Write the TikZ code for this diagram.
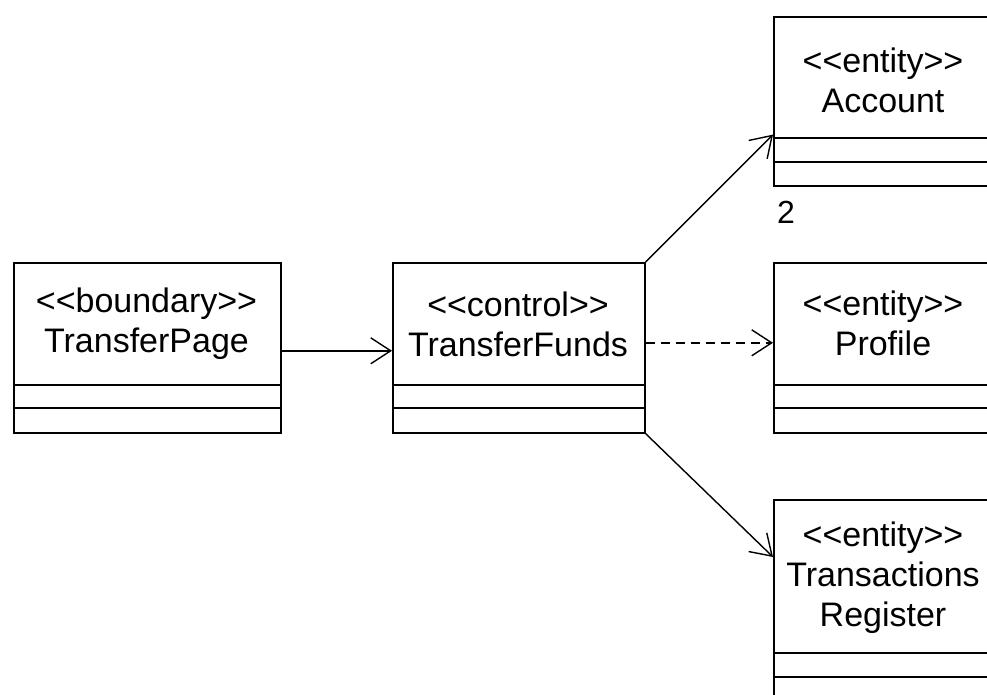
\documentclass[tikz,border=0pt]{standalone}
\usepackage{fontspec}
\setmainfont{Liberation Sans}
\usetikzlibrary{arrows.meta}
\begin{document}
\begin{tikzpicture}[x=1pt,y=-1pt,
  cls/.style={draw, line width=1.6pt, inner sep=0pt, anchor=north west},
  lbl/.style={font=\fontsize{34}{40}\selectfont, align=center, inner sep=0pt},
  divider/.style={line width=1.6pt},
  conn/.style={line width=1.4pt, -{Straight Barb[length=20pt,width=26pt,line width=1.4pt]}}
]
\clip (0,0) rectangle (987,695);
\fill[white] (0,0) rectangle (987,695);

% TransferPage
\node[cls, minimum width=267pt, minimum height=170pt] (tp) at (13,262) {};
\draw[divider] (13,385) -- (280,385);
\draw[divider] (13,408) -- (280,408);
\node[lbl] (tpt) at (146.5,324) {<{}<boundary>{}>\\TransferPage};

% TransferFunds
\node[cls, minimum width=252pt, minimum height=170pt] (tf) at (392,262) {};
\draw[divider] (392,385) -- (644,385);
\draw[divider] (392,408) -- (644,408);
\node[lbl] (tft) at (518,324) {<{}<control>{}>\\TransferFunds};

% Account
\node[cls, minimum width=220pt, minimum height=169pt] (acc) at (773,16) {};
\draw[divider] (773,138) -- (993,138);
\draw[divider] (773,162) -- (993,162);
\node[lbl] (acct) at (883,80) {<{}<entity>{}>\\Account};
\node[font=\fontsize{32}{38}\selectfont, inner sep=0pt] (mult) at (786,212) {2};

% Profile
\node[cls, minimum width=220pt, minimum height=170pt] (prof) at (773,262) {};
\draw[divider] (773,385) -- (993,385);
\draw[divider] (773,408) -- (993,408);
\node[lbl] (proft) at (883,323) {<{}<entity>{}>\\Profile};

% Transactions Register
\node[cls, minimum width=220pt, minimum height=210pt] (tr) at (773,499) {};
\draw[divider] (773,653) -- (993,653);
\draw[divider] (773,677) -- (993,677);
\node[lbl] (trt) at (883,578) {<{}<entity>{}>\\Transactions\\Register};

% connectors
\draw[conn] ([yshift=-3pt]tp.east) -- ([yshift=-3pt]tf.west);
\draw[conn, dash pattern=on 9pt off 6pt] ([yshift=5pt]tf.east) -- ([yshift=5pt]prof.west);
\draw[conn] (tf.north east) -- ([yshift=52pt]acc.south west);
\draw[conn] (tf.south east) -- ([yshift=-58pt]tr.north west);
\end{tikzpicture}
\end{document}
